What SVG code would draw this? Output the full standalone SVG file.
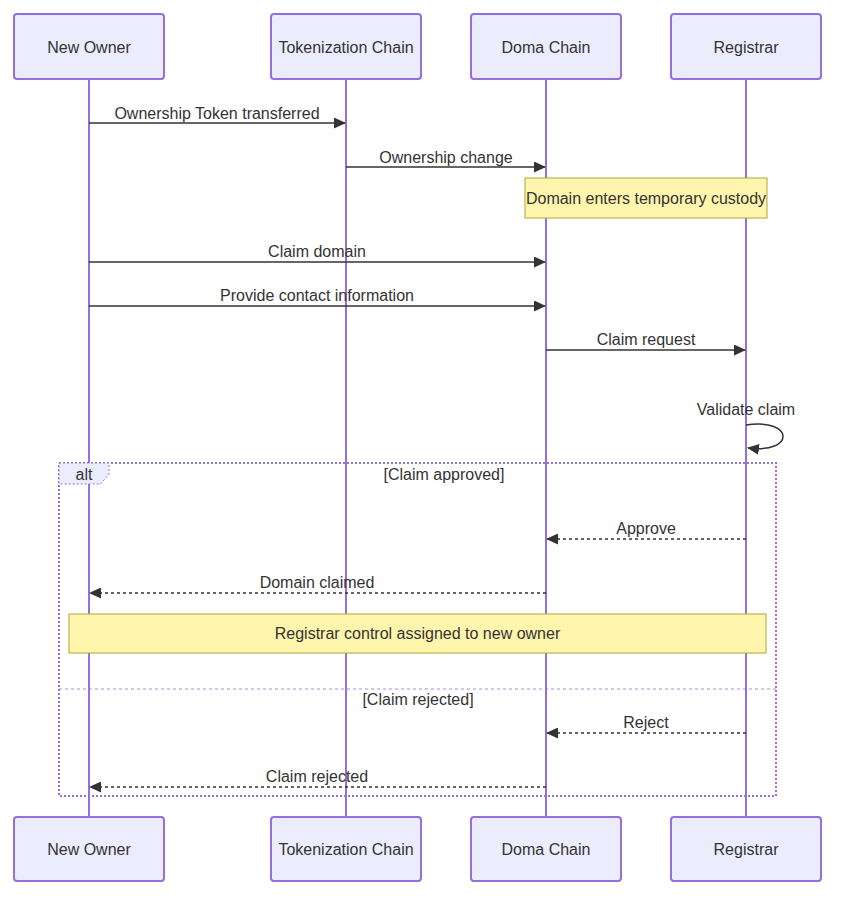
<svg xmlns="http://www.w3.org/2000/svg" width="862" height="897" viewBox="0 0 862 897">
<style>
.actor rect{fill:#ECECFF;stroke:#9370DB;stroke-width:2}
.actor text,.lbl{font-family:"Liberation Sans",Arial,sans-serif;font-size:16px;fill:#333;text-anchor:middle;dominant-baseline:central}
.life{stroke:#9370DB;stroke-width:2}
.msg{stroke:#333;stroke-width:1.5;fill:none}
.dash{stroke-dasharray:3,3}
.note rect{fill:#fff5ad;stroke:#aaaa33;stroke-width:1}
.frame{fill:none;stroke:#9370DB;stroke-width:2;stroke-dasharray:2,2}
</style>
<defs>
<marker id="ah" viewBox="0 0 12 11" markerWidth="12" markerHeight="11" refX="11" refY="5.5" orient="auto" markerUnits="userSpaceOnUse">
<path d="M0,0 L12,5.5 L0,11 z" fill="#333"/>
</marker>
</defs>
<g id="lifelines">
<line class="life" x1="89" y1="79" x2="89" y2="817"/>
<line class="life" x1="346" y1="79" x2="346" y2="817"/>
<line class="life" x1="546" y1="79" x2="546" y2="817"/>
<line class="life" x1="746" y1="79" x2="746" y2="817"/>
</g>
<g id="alt-frame">
<rect class="frame" x="59" y="463" width="717" height="333"/>
<path d="M59,463 L109,463 L109,474 L100.6,484 L59,484 Z" fill="#ECECFF" stroke="#9370DB" stroke-width="1" stroke-dasharray="2,2"/>
<text class="lbl" x="84" y="474">alt</text>
<text class="lbl" x="444" y="474">[Claim approved]</text>
<line x1="59" y1="689" x2="776" y2="689" stroke="#9370DB" stroke-width="1" stroke-dasharray="3,3" opacity="0.8"/>
<text class="lbl" x="418" y="699">[Claim rejected]</text>
</g>
<g id="actor-new-owner-top" class="actor"><rect x="14" y="14" width="150" height="65" rx="3"/><text x="89" y="47">New Owner</text></g>
<g id="actor-tokenization-top" class="actor"><rect x="271" y="14" width="150" height="65" rx="3"/><text x="346" y="47">Tokenization Chain</text></g>
<g id="actor-doma-top" class="actor"><rect x="471" y="14" width="150" height="65" rx="3"/><text x="546" y="47">Doma Chain</text></g>
<g id="actor-registrar-top" class="actor"><rect x="671" y="14" width="150" height="65" rx="3"/><text x="746" y="47">Registrar</text></g>
<g id="actor-new-owner-bottom" class="actor"><rect x="14" y="817" width="150" height="64" rx="3"/><text x="89" y="849">New Owner</text></g>
<g id="actor-tokenization-bottom" class="actor"><rect x="271" y="817" width="150" height="64" rx="3"/><text x="346" y="849">Tokenization Chain</text></g>
<g id="actor-doma-bottom" class="actor"><rect x="471" y="817" width="150" height="64" rx="3"/><text x="546" y="849">Doma Chain</text></g>
<g id="actor-registrar-bottom" class="actor"><rect x="671" y="817" width="150" height="64" rx="3"/><text x="746" y="849">Registrar</text></g>
<g id="note-custody" class="note"><rect x="525" y="178" width="242" height="40"/><text class="lbl" x="646" y="198">Domain enters temporary custody</text></g>
<g id="note-control" class="note"><rect x="69" y="614" width="697" height="39"/><text class="lbl" x="417.5" y="633">Registrar control assigned to new owner</text></g>
<g id="connectors">
<line class="msg" x1="89" y1="123" x2="345" y2="123" marker-end="url(#ah)"/>
<text class="lbl" x="217" y="113">Ownership Token transferred</text>
<line class="msg" x1="346" y1="167" x2="545" y2="167" marker-end="url(#ah)"/>
<text class="lbl" x="446" y="157">Ownership change</text>
<line class="msg" x1="89" y1="262" x2="545" y2="262" marker-end="url(#ah)"/>
<text class="lbl" x="317" y="251">Claim domain</text>
<line class="msg" x1="89" y1="306" x2="545" y2="306" marker-end="url(#ah)"/>
<text class="lbl" x="317" y="295">Provide contact information</text>
<line class="msg" x1="546" y1="350" x2="745" y2="350" marker-end="url(#ah)"/>
<text class="lbl" x="646" y="339">Claim request</text>
<text class="lbl" x="746" y="409">Validate claim</text>
<path class="msg" d="M746,425 C795,418 795,454 748,448" marker-end="url(#ah)"/>
<line class="msg dash" x1="746" y1="539" x2="547" y2="539" marker-end="url(#ah)"/>
<text class="lbl" x="646" y="528">Approve</text>
<line class="msg dash" x1="546" y1="593" x2="90" y2="593" marker-end="url(#ah)"/>
<text class="lbl" x="317" y="582">Domain claimed</text>
<line class="msg dash" x1="746" y1="733" x2="547" y2="733" marker-end="url(#ah)"/>
<text class="lbl" x="646" y="722">Reject</text>
<line class="msg dash" x1="546" y1="787" x2="90" y2="787" marker-end="url(#ah)"/>
<text class="lbl" x="317" y="776">Claim rejected</text>
</g>
</svg>
